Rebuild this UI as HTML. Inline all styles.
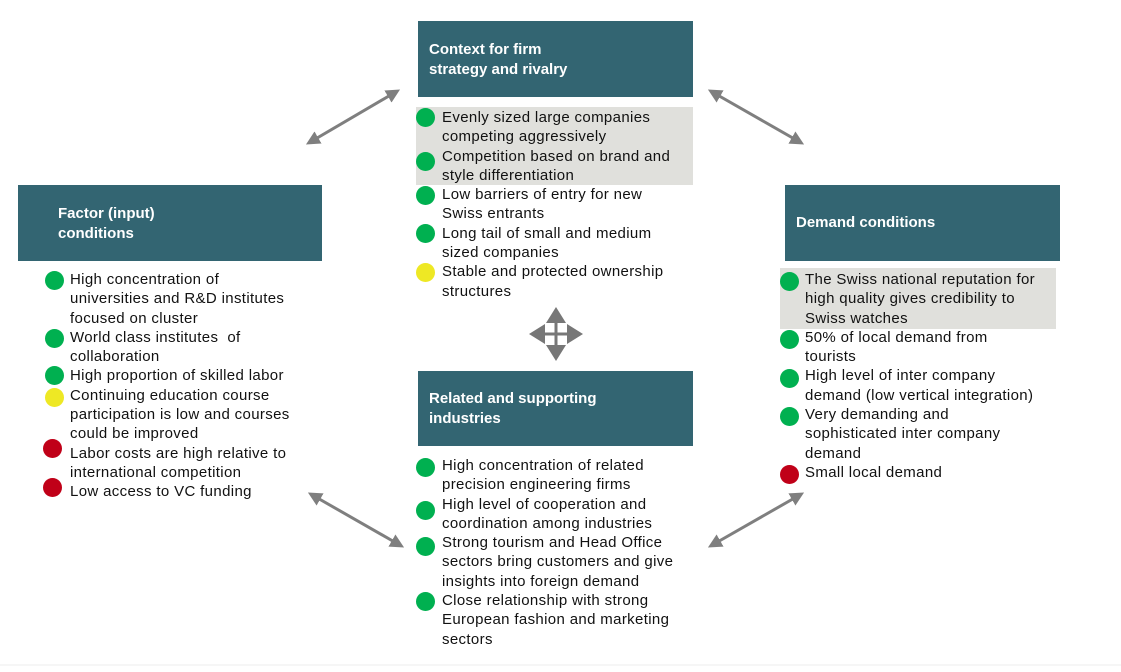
<!DOCTYPE html>
<html><head><meta charset="utf-8"><style>
body{margin:0;width:1121px;height:672px;background:#fff;position:relative;overflow:hidden;font-family:"Liberation Sans",Arial,sans-serif}
.box{position:absolute;background:#336572;color:#fff;font-weight:bold;font-size:15px;line-height:20px;box-sizing:border-box}
.hl{position:absolute;background:#e0e0dc}
.t{position:absolute;font-size:15px;line-height:19.3px;color:#111;white-space:nowrap;letter-spacing:0.35px}
.b{position:absolute;width:19px;height:19px;border-radius:50%}
.g{background:#00b050}.y{background:#eee824}.r{background:#c00018}
</style></head><body>
<div class="box" style="left:418px;top:21px;width:275px;height:76px;padding:19px 0 0 11px">Context for firm<br>strategy and rivalry</div>
<div class="box" style="left:18px;top:185px;width:304px;height:76px;padding:19px 0 0 40px">Factor (input)<br>conditions</div>
<div class="box" style="left:785px;top:185px;width:275px;height:76px;padding:28px 0 0 11px">Demand conditions</div>
<div class="box" style="left:418px;top:371px;width:275px;height:75px;padding:18px 0 0 11px">Related and supporting<br>industries</div>
<div class="hl" style="left:416px;top:107px;width:277px;height:78px"></div>
<div class="hl" style="left:780px;top:268px;width:276px;height:61px"></div>

<div class="t" style="left:442px;top:108px">Evenly sized large companies<br>competing aggressively<br>Competition based on brand and<br>style differentiation<br>Low barriers of entry for new<br>Swiss entrants<br>Long tail of small and medium<br>sized companies<br>Stable and protected ownership<br>structures</div>
<div class="b g" style="left:416px;top:108px"></div><div class="b g" style="left:416px;top:152px"></div><div class="b g" style="left:416px;top:186px"></div><div class="b g" style="left:416px;top:224px"></div><div class="b y" style="left:416px;top:263px"></div>

<div class="t" style="left:70px;top:270px">High concentration of<br>universities and R&amp;D institutes<br>focused on cluster<br>World class institutes &nbsp;of<br>collaboration<br>High proportion of skilled labor<br>Continuing education course<br>participation is low and courses<br>could be improved<br>Labor costs are high relative to<br>international competition<br>Low access to VC funding</div>
<div class="b g" style="left:45px;top:271px"></div><div class="b g" style="left:45px;top:329px"></div><div class="b g" style="left:45px;top:366px"></div><div class="b y" style="left:45px;top:388px"></div><div class="b r" style="left:43px;top:439px"></div><div class="b r" style="left:43px;top:478px"></div>

<div class="t" style="left:805px;top:270px">The Swiss national reputation for<br>high quality gives credibility to<br>Swiss watches<br>50% of local demand from<br>tourists<br>High level of inter company<br>demand (low vertical integration)<br>Very demanding and<br>sophisticated inter company<br>demand<br>Small local demand</div>
<div class="b g" style="left:780px;top:272px"></div><div class="b g" style="left:780px;top:330px"></div><div class="b g" style="left:780px;top:369px"></div><div class="b g" style="left:780px;top:407px"></div><div class="b r" style="left:780px;top:465px"></div>

<div class="t" style="left:442px;top:456px">High concentration of related<br>precision engineering firms<br>High level of cooperation and<br>coordination among industries<br>Strong tourism and Head Office<br>sectors bring customers and give<br>insights into foreign demand<br>Close relationship with strong<br>European fashion and marketing<br>sectors</div>
<div class="b g" style="left:416px;top:458px"></div><div class="b g" style="left:416px;top:501px"></div><div class="b g" style="left:416px;top:537px"></div><div class="b g" style="left:416px;top:592px"></div>

<svg width="1121" height="672" style="position:absolute;left:0;top:0">
<defs><marker id="a" markerWidth="14" markerHeight="14" refX="7" refY="7" orient="auto-start-reverse" markerUnits="userSpaceOnUse" viewBox="0 0 14 14"><path d="M0,0 L14,7 L0,14 z" fill="#7f7f7f"/></marker></defs>
<g stroke="#7f7f7f" stroke-width="3" fill="none">
<line x1="312" y1="141" x2="394" y2="93" marker-start="url(#a)" marker-end="url(#a)"/>
<line x1="714" y1="93" x2="798" y2="141" marker-start="url(#a)" marker-end="url(#a)"/>
<line x1="314" y1="496" x2="398" y2="544" marker-start="url(#a)" marker-end="url(#a)"/>
<line x1="714" y1="544" x2="798" y2="496" marker-start="url(#a)" marker-end="url(#a)"/>
</g>
<g fill="#777">
<rect x="554.5" y="318" width="3" height="32"/><rect x="540" y="332.5" width="32" height="3"/>
<path d="M556,307 L566,323 L546,323 z M556,361 L566,345 L546,345 z M529,334 L545,324 L545,344 z M583,334 L567,324 L567,344 z"/>
</g>
<line x1="0" y1="665" x2="1121" y2="665" stroke="#eee" stroke-width="1"/>
</svg>
</body></html>
